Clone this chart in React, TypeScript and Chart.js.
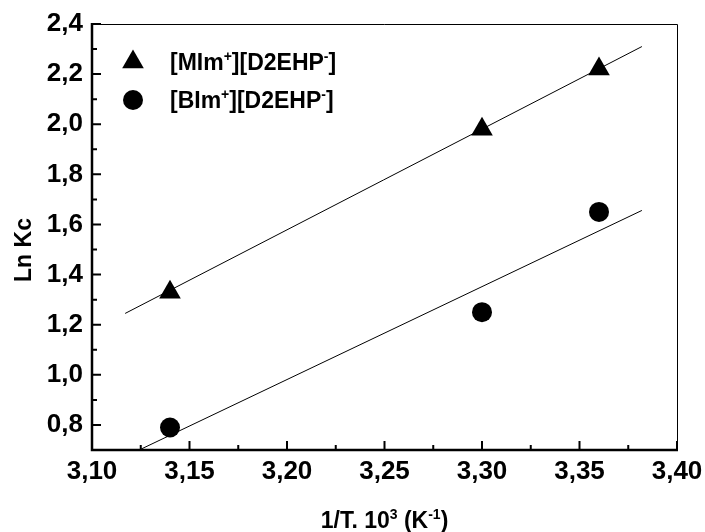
import React, { useEffect, useRef } from "react";
import { Chart, registerables } from "chart.js";

Chart.register(...registerables);

// Measured points
const xMIm = [3.14, 3.3, 3.36];
const yMIm = [1.33, 1.98, 2.22];
const xBIm = [3.14, 3.3, 3.36];
const yBIm = [0.79, 1.25, 1.65];

// Fitted line end points
const xFitMIm = [3.117, 3.382];
const yFitMIm = [1.245, 2.31];
const xFitBIm = [3.125, 3.382];
const yFitBIm = [0.703, 1.656];

// Axes
const xMin = 3.1;
const xMax = 3.4;
const yMin = 0.7;
const yMax = 2.4;
const xTickValues = [3.1, 3.15, 3.2, 3.25, 3.3, 3.35, 3.4];
const xMinorValues = [3.125, 3.175, 3.225, 3.275, 3.325, 3.375];
const yTickValues = [0.8, 1.0, 1.2, 1.4, 1.6, 1.8, 2.0, 2.2, 2.4];
const yMinorValues = [0.9, 1.1, 1.3, 1.5, 1.7, 1.9, 2.1, 2.3];

// Text (pieces: [text, superscript?])
const legendMIm: [string, boolean][] = [["[MIm", false], ["+", true], ["][D2EHP", false], ["-", true], ["]", false]];
const legendBIm: [string, boolean][] = [["[BIm", false], ["+", true], ["][D2EHP", false], ["-", true], ["]", false]];
const xTitle: [string, boolean][] = [["1/T. 10", false], ["3", true], [" (K", false], ["-1", true], [")", false]];
const yTitle = "Ln Kc";

const FONT = "'Liberation Sans', Arial, Helvetica, sans-serif";
const TICK_FS = 26;
const FS = 23;
const SUP = 14;

function drawRich(ctx: CanvasRenderingContext2D, parts: [string, boolean][], x: number, y: number, align: "left" | "center") {
  const widths = parts.map(([t, s]) => {
    ctx.font = `bold ${s ? SUP : FS}px ${FONT}`;
    return ctx.measureText(t).width;
  });
  const total = widths.reduce((a, b) => a + b, 0);
  let cx = align === "center" ? x - total / 2 : x;
  ctx.textAlign = "left";
  ctx.textBaseline = "alphabetic";
  parts.forEach(([t, s], i) => {
    ctx.font = `bold ${s ? SUP : FS}px ${FONT}`;
    ctx.fillText(t, cx, s ? y - 9 : y);
    cx += widths[i];
  });
}

const decorPlugin = {
  id: "decor",
  afterDraw(chart: any) {
    const ctx: CanvasRenderingContext2D = chart.ctx;
    const { left, right, top, bottom } = chart.chartArea;
    const xs = chart.scales.x;
    const ys = chart.scales.y;
    ctx.save();
    ctx.strokeStyle = "#000";
    ctx.fillStyle = "#000";
    // thin top/right frame
    ctx.lineWidth = 1;
    ctx.beginPath();
    ctx.moveTo(left, top + 0.5);
    ctx.lineTo(right + 0.5, top + 0.5);
    ctx.lineTo(right + 0.5, bottom);
    ctx.stroke();
    // thick left/bottom axes
    ctx.lineWidth = 2.5;
    ctx.beginPath();
    ctx.moveTo(left, top - 1);
    ctx.lineTo(left, bottom);
    ctx.lineTo(right + 1, bottom);
    ctx.stroke();
    // ticks (inward)
    ctx.lineWidth = 2;
    ctx.beginPath();
    xTickValues.forEach((v) => {
      const px = xs.getPixelForValue(v);
      ctx.moveTo(px, bottom);
      ctx.lineTo(px, bottom - 9);
    });
    xMinorValues.forEach((v) => {
      const px = xs.getPixelForValue(v);
      ctx.moveTo(px, bottom);
      ctx.lineTo(px, bottom - 5);
    });
    yTickValues.forEach((v) => {
      const py = ys.getPixelForValue(v);
      ctx.moveTo(left, py);
      ctx.lineTo(left + 9, py);
    });
    yMinorValues.forEach((v) => {
      const py = ys.getPixelForValue(v);
      ctx.moveTo(left, py);
      ctx.lineTo(left + 5, py);
    });
    ctx.stroke();

    // legend
    const mx = 133;
    const r = 12.5;
    const ty = 62;
    ctx.beginPath();
    ctx.moveTo(mx, ty - r);
    ctx.lineTo(mx + r * 0.866, ty + r / 2);
    ctx.lineTo(mx - r * 0.866, ty + r / 2);
    ctx.closePath();
    ctx.fill();
    ctx.beginPath();
    ctx.arc(mx, 100, 10, 0, Math.PI * 2);
    ctx.fill();
    drawRich(ctx, legendMIm, 170, 70, "left");
    drawRich(ctx, legendBIm, 170, 108, "left");

    // axis titles
    drawRich(ctx, xTitle, (left + right) / 2, 528, "center");
    ctx.save();
    ctx.translate(31, 250);
    ctx.rotate(-Math.PI / 2);
    ctx.font = `bold ${FS}px ${FONT}`;
    ctx.textAlign = "center";
    ctx.textBaseline = "alphabetic";
    ctx.fillText(yTitle, 0, 0);
    ctx.restore();
    ctx.restore();
  },
};

export default function App() {
  const ref = useRef<HTMLCanvasElement | null>(null);
  useEffect(() => {
    if (!ref.current) return;
    const pts = (xs: number[], ys: number[]) => xs.map((x, i) => ({ x, y: ys[i] }));
    const chart = new Chart(ref.current, {
      type: "scatter",
      data: {
        datasets: [
          {
            label: "[MIm+][D2EHP-]",
            data: pts(xMIm, yMIm),
            pointStyle: "triangle",
            pointRadius: 12.5,
            pointHoverRadius: 12.5,
            backgroundColor: "#000",
            borderColor: "#000",
            borderWidth: 0,
            order: 0,
          },
          {
            label: "[BIm+][D2EHP-]",
            data: pts(xBIm, yBIm),
            pointStyle: "circle",
            pointRadius: 10,
            pointHoverRadius: 10,
            backgroundColor: "#000",
            borderColor: "#000",
            borderWidth: 0,
            order: 1,
          },
          {
            label: "fit MIm",
            data: pts(xFitMIm, yFitMIm),
            showLine: true,
            pointRadius: 0,
            borderColor: "#000",
            borderWidth: 1,
            order: 2,
          },
          {
            label: "fit BIm",
            data: pts(xFitBIm, yFitBIm),
            showLine: true,
            pointRadius: 0,
            borderColor: "#000",
            borderWidth: 1,
            order: 3,
          },
        ],
      },
      options: {
        responsive: false,
        animation: false,
        events: [],
        layout: { padding: { left: 0, top: 24, right: 28, bottom: 0 } },
        plugins: {
          legend: { display: false },
          tooltip: { enabled: false },
        },
        scales: {
          x: {
            type: "linear",
            min: xMin,
            max: xMax,
            afterFit: (s: any) => {
              s.height = 82;
              s.paddingLeft = 0;
              s.paddingRight = 0;
            },
            afterBuildTicks: (s: any) => {
              s.ticks = xTickValues.map((v) => ({ value: v }));
            },
            grid: { display: false, drawTicks: false },
            border: { display: false },
            ticks: {
              padding: 6,
              color: "#000",
              maxRotation: 0,
              autoSkip: false,
              font: { family: FONT, size: TICK_FS, weight: "bold" },
              callback: (v: any) => Number(v).toFixed(2).replace(".", ","),
            },
          },
          y: {
            type: "linear",
            min: yMin,
            max: yMax,
            afterFit: (s: any) => {
              s.width = 92;
              s.paddingTop = 0;
              s.paddingBottom = 0;
            },
            afterBuildTicks: (s: any) => {
              s.ticks = yTickValues.map((v) => ({ value: v }));
            },
            grid: { display: false, drawTicks: false },
            border: { display: false },
            ticks: {
              padding: 9,
              color: "#000",
              autoSkip: false,
              font: { family: FONT, size: TICK_FS, weight: "bold" },
              callback: (v: any) => Number(v).toFixed(1).replace(".", ","),
            },
          },
        },
      },
      plugins: [decorPlugin],
    });
    return () => chart.destroy();
  }, []);
  return (
    <div style={{ position: "fixed", left: 0, top: 0, width: 705, height: 532, background: "#fff" }}>
      <canvas ref={ref} width={705} height={532} style={{ display: "block" }} />
    </div>
  );
}
